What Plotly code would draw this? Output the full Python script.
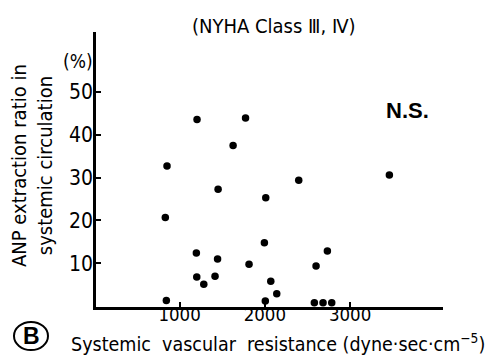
import plotly.graph_objects as go

# Systemic vascular resistance (dyne·sec·cm^-5) and ANP extraction ratio (%)
svr = [853, 1205, 1774, 1628, 1452, 833, 1197, 1446, 1202, 1284, 1416, 845,
       2011, 2398, 1815, 1995, 2070, 2140, 2006, 2601, 2734, 2581, 2683, 2785, 3461]
anp_extraction = [32.7, 43.6, 43.9, 37.5, 27.3, 20.7, 12.4, 11.0, 6.8, 5.1, 7.0, 1.3,
                  25.3, 29.4, 9.8, 14.8, 5.8, 2.9, 1.2, 9.4, 12.9, 0.8, 0.8, 0.8, 30.6]

x_ticks = [1000, 2000, 3000]
x_tick_labels = ["1000", "2000", "3000"]
y_ticks = [10, 20, 30, 40, 50]
y_tick_labels = ["10", "20", "30", "40", "50"]

NARROW = "DejaVu Sans Condensed, Liberation Sans Narrow, Liberation Sans, Arial, sans-serif"

fig = go.Figure()
fig.add_trace(go.Scatter(
    x=svr, y=anp_extraction, mode="markers",
    marker=dict(color="black", size=7.5, line=dict(width=0)),
    cliponaxis=False, showlegend=False,
))

W, H = 485, 358
L, R, T, B = 96, 42, 32, 51
pw, ph = W - L - R, H - T - B

def px(x):
    return (x - L) / pw

def py(y):
    return (H - B - y) / ph

fig.update_layout(
    width=W, height=H,
    margin=dict(l=L, r=R, t=T, b=B, pad=0),
    paper_bgcolor="white", plot_bgcolor="white",
    font=dict(family=NARROW, color="black", size=18),
    xaxis=dict(
        range=[20, 4090], showgrid=False, zeroline=False,
        showline=True, linecolor="black", linewidth=2.5,
        ticks="inside", ticklen=5, tickwidth=1.5, tickcolor="black",
        tickvals=x_ticks, ticktext=x_tick_labels,
        tickfont=dict(family=NARROW, size=18.5),
        ticklabelstandoff=-11,
    ),
    yaxis=dict(
        range=[-0.2, 64], showgrid=False, zeroline=False,
        showline=True, linecolor="black", linewidth=2.5,
        ticks="inside", ticklen=5, tickwidth=1.5, tickcolor="black",
        tickvals=y_ticks, ticktext=y_tick_labels,
        tickfont=dict(family=NARROW, size=21),
        ticklabelstandoff=-4,
    ),
)

ann = dict(xref="paper", yref="paper", showarrow=False,
           xanchor="center", yanchor="middle")
fig.add_annotation(text="(NYHA Class Ⅲ, Ⅳ)", x=px(274), y=py(26),
                   font=dict(family=NARROW, size=20), **ann)
fig.add_annotation(text="(%)", x=px(78), y=py(61),
                   font=dict(family=NARROW, size=19), **ann)
fig.add_annotation(text="ANP extraction ratio in<br>systemic circulation",
                   x=px(32), y=py(166), textangle=-90,
                   font=dict(family=NARROW, size=20), **ann)
fig.add_annotation(text="N.S.", x=px(407), y=py(111),
                   font=dict(family="Liberation Sans, Arial, sans-serif", size=22, weight="bold"),
                   **ann)
fig.add_annotation(text="Systemic  vascular  resistance (dyne·sec·cm<sup>−5</sup>)",
                   x=px(278), y=py(343),
                   font=dict(family=NARROW, size=19.5), **ann)
fig.add_annotation(text="B", x=px(31), y=py(336),
                   font=dict(family="Liberation Sans, Arial, sans-serif", size=23, weight="bold"),
                   **ann)
fig.add_shape(type="circle", xref="paper", yref="paper",
              x0=px(14), x1=px(48), y0=py(350), y1=py(322),
              line=dict(color="black", width=2))

fig.write_html("out.html")
